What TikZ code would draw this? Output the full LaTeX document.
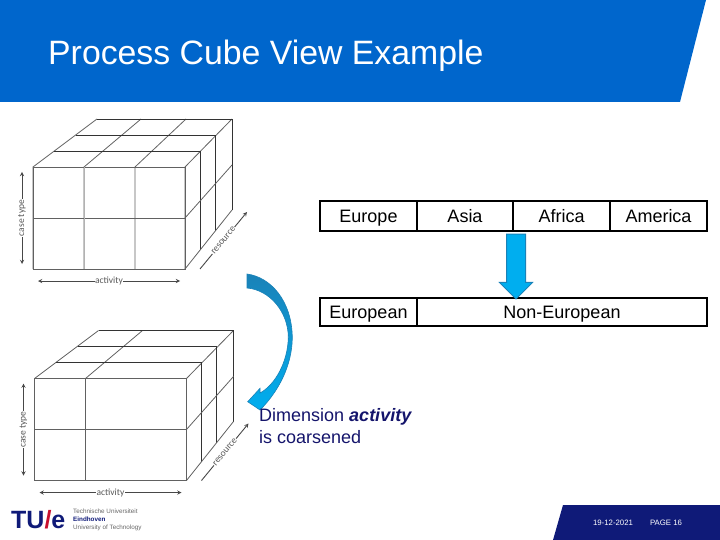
\documentclass[tikz,border=0pt]{standalone}
\usepackage{fontspec}
\setmainfont{Liberation Sans}
\newfontfamily\axisfont{Carlito}
\usepackage{tikz}
\usetikzlibrary{positioning}
\usetikzlibrary{arrows}
\usetikzlibrary{shapes.arrows}
\definecolor{tuehead}{HTML}{0066CC}
\definecolor{tuenavy}{HTML}{0F1A78}
\definecolor{tuered}{HTML}{C8102E}
\definecolor{textnavy}{HTML}{14146B}
\definecolor{arrowfill}{HTML}{00AEEF}
\definecolor{arrowedge}{HTML}{1A82B8}
\tikzset{
    cell/.style={ % One box of the table
        draw,
        line width=2.4pt,
        minimum height=#1,
        inner sep=0pt,
        outer sep=0pt,
        text height=14.5pt,
        text depth=1.5pt,
        font=\fontsize{18}{20}\selectfont
    },
    cubeline/.style={
        draw=black!62,
        line width=0.8pt
    },
    axisline/.style={
        draw=black!72,
        line width=0.9pt,
        >=stealth
    },
    axislabel/.style={
        fill=white,
        inner sep=0.5pt,
        text=black!65,
        font=\axisfont\fontsize{9.5}{9.5}\selectfont
    },
    footertext/.style={
        text=white,
        inner sep=0pt,
        font=\fontsize{7.8}{9}\selectfont
    },
    logotext/.style={
        anchor=west,
        inner sep=0pt,
        text=black!60,
        font=\fontsize{6.3}{7}\selectfont
    }
}
% cube with its three axes, #1 = front x / back x of the columns
\newcommand{\drawcube}[1]{
    \draw[cubeline] (33,167) rectangle (185,269);
    \draw[cubeline] (33,218) -- (185,218);
    \foreach \fx/\bx in {#1}
        \draw[cubeline] (\fx,269) -- (\fx,167) -- (\bx,119);
    \foreach \lx/\rx/\ly/\by in {54/200/151/250, 76/215/135/231, 97/232/119/210}
        \draw[cubeline, draw=black!80] (\lx,\ly) -- (\rx,\ly) -- (\rx,\by);
    \draw[cubeline] (185,218) -- (232,165);
    \draw[cubeline] (185,269) -- (232,210);
    \coordinate (caseup) at (22,172);
    \coordinate (casedown) at (22,264);
    \coordinate (actleft) at (38,281);
    \coordinate (actright) at (180,281);
    \coordinate (resfront) at (200,269);
    \coordinate (resback) at (247,212);
    \draw[axisline, <->] (casedown) -- node[axislabel, rotate=90] (caselabel) {case type} (caseup);
    \draw[axisline, <->] (actleft) -- node[axislabel] (actlabel) {activity} (actright);
    \draw[axisline, ->] (resfront) -- node[axislabel, rotate=50.5] (reslabel) {resource} (resback);
}

\begin{document}
\begin{tikzpicture}[x=1pt, y=-1pt]
    \useasboundingbox (0,0) rectangle (720,540);

    % header and footer
    \fill[tuehead] (0,0) -- (706,0) -- (680,102) -- (0,102) -- cycle;
    \node[anchor=base west, inner sep=0pt, text=white, font=\fontsize{33.8}{38}\selectfont] (title) at (48,65) {Process Cube View Example};
    \fill[tuenavy] (563,505) -- (720,505) -- (720,540) -- (553,540) -- cycle;
    \node[footertext] (date) at (613,523) {19-12-2021};
    \node[footertext] (page) at (666,523) {PAGE 16};

    % cubes
    \drawcube{33/97, 84/141, 135/186, 185/232}
    \draw[cubeline, draw=black!30] (84,167) -- (84,269);
    \begin{scope}[shift={(1.5,211.5)}]
        \drawcube{33/97, 84/141, 185/232}
    \end{scope}

    % table
    \node[cell=30pt, minimum width=97pt, anchor=north west] (europe) at (320,201) {Europe};
    \node[cell=30pt, minimum width=96pt, right=0pt of europe] (asia) {Asia};
    \node[cell=30pt, minimum width=97pt, right=0pt of asia] (africa) {Africa};
    \node[cell=30pt, minimum width=97pt, right=0pt of africa] (america) {America};
    \node[cell=28pt, minimum width=97pt, anchor=north west] (european) at (320,298) {European};
    \node[cell=28pt, minimum width=290pt, right=0pt of european] (noneuropean) {Non-European};

    % block arrow
    \node[single arrow, rotate=-90, anchor=tip, draw=arrowedge, fill=arrowfill, line width=1pt,
          inner sep=9pt, outer sep=0pt, minimum height=65pt, single arrow head extend=7pt] (refine) at (516,299) {};

    % curved arrow
    \draw[arrowedge, line width=0.6pt, top color=arrowedge, bottom color=arrowfill]
        (247,274) .. controls (270,277) and (292,300) .. (292.3,338)
        .. controls (292,365) and (279,391) .. (260,410)
        -- (247.7,401.7) -- (260,388.3) -- (260,393)
        .. controls (275,385) and (288,362) .. (288.3,337)
        .. controls (288,312) and (270,290) .. (247,288) -- cycle;
    \node[anchor=north west, inner sep=0pt, align=left, text=textnavy, font=\fontsize{18}{22}\selectfont] (coarsened) at (259,408)
        {Dimension \textbf{\textit{activity}}\\is coarsened};

    % logo
    \node[anchor=west, inner sep=0pt, text=tuenavy, font=\bfseries\fontsize{25}{25}\selectfont] (tue) at (11,520) {TU{\color{tuered}/}e};
    \node[logotext] (tuename) at (73,511.5) {Technische Universiteit};
    \node[logotext, font=\bfseries\fontsize{6.3}{7}\selectfont, text=tuenavy] (tuecity) at (73,519.5) {Eindhoven};
    \node[logotext] (tueuni) at (73,527.5) {University of Technology};
\end{tikzpicture}
\end{document}
